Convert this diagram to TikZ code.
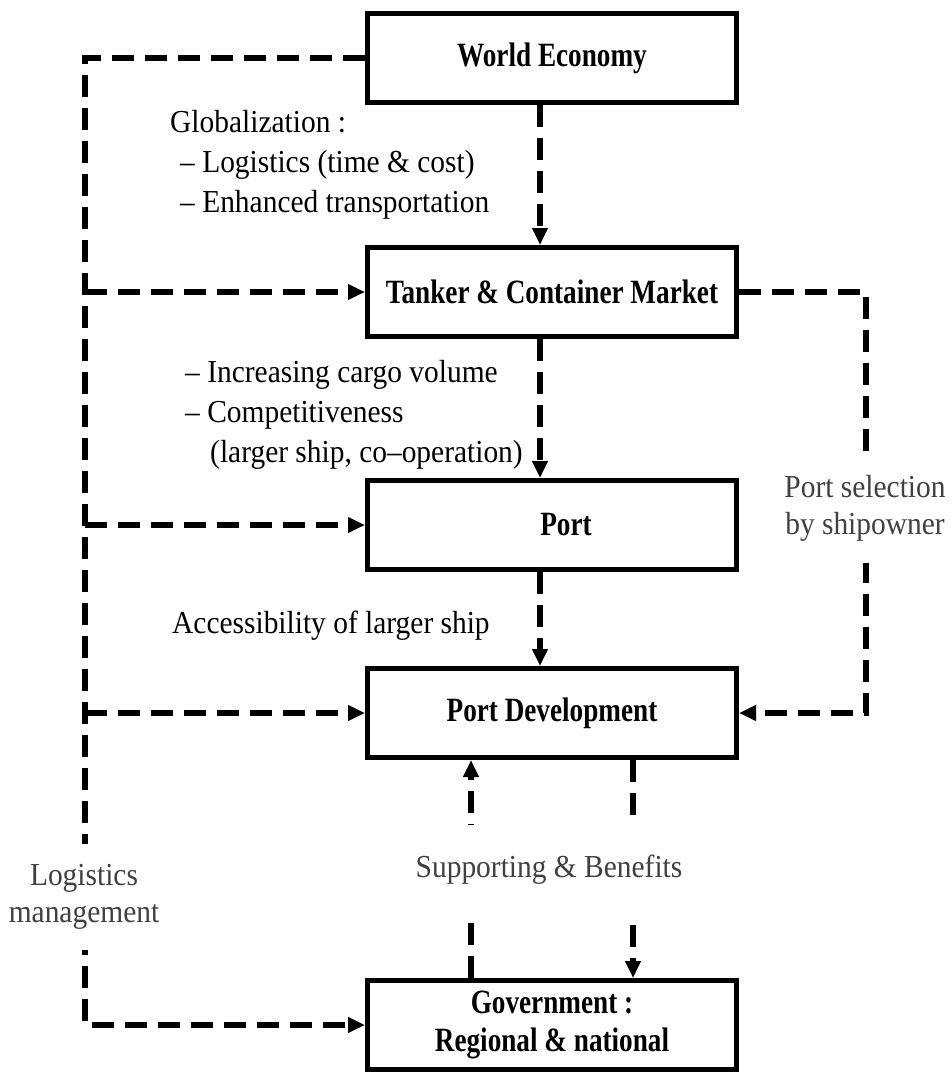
\documentclass[tikz,border=0pt]{standalone}
\usepackage{fontspec}
\setmainfont{Liberation Serif}[FakeStretch=0.92]
\newfontfamily\boxfont{Liberation Serif}[FakeStretch=0.8]
\usetikzlibrary{positioning,arrows.meta}

\begin{document}
\begin{tikzpicture}[
x=1pt, y=-1pt,
>={Triangle[length=17pt,width=15pt]},
boxnode/.style={rectangle, draw=black, line width=5pt, minimum width=369pt, minimum height=89pt, align=center, font=\boxfont\bfseries\fontsize{34}{38}\selectfont},
labelnode/.style={inner sep=0pt, font=\fontsize{32}{40}\selectfont},
gapnode/.style={fill=white, align=center, text=black!75, font=\fontsize{32}{37}\selectfont}, % covers the dashed lines
dline/.style={line width=5.5pt, dash pattern=on 22pt off 11pt},
]
\useasboundingbox (0,0) rectangle (952,1073);

% Nodes
\node[boxnode] (we) at (552,58) {World Economy};
\node[boxnode, below=140pt of we] (tank) {Tanker \& Container Market};
\node[boxnode, below=139pt of tank] (port) {\hspace*{28pt}Port};
\node[boxnode, below=94pt of port] (pdev) {Port Development};
\node[boxnode, below=218pt of pdev] (gov) {Government :\\Regional \& national};

\coordinate (lcol) at (85,0);
\coordinate (rcol) at (866,0);

% Arrows
\draw[dline,->] (we.west) -| (gov.west -| lcol) -- (gov.west);
\foreach \n in {tank,port,pdev}
  \draw[dline,->] (\n.west -| lcol) -- (\n.west);
\draw[dline,->] (tank.east) -| (pdev.east -| rcol) -- (pdev.east);
\draw[dline,->] ([xshift=-12pt]we.south) -- ([xshift=-12pt]tank.north);
\draw[dline,->] ([xshift=-12pt]tank.south) -- ([xshift=-12pt]port.north);
\draw[dline,->] ([xshift=-12pt]port.south) -- ([xshift=-12pt]pdev.north);
\draw[dline,->] ([xshift=-81pt]gov.north) -- ([xshift=-81pt]pdev.south);
\draw[dline,->] ([xshift=81pt]pdev.south) -- ([xshift=81pt]gov.north);

% Labels (base = last line)
\node[labelnode, anchor=base west, align=left] (glob) at (170,212) {Globalization :\\\hspace*{10pt}– Logistics (time \& cost)\\\hspace*{10pt}– Enhanced transportation};
\node[labelnode, anchor=base west, align=left] (cargo) at (185,462) {– Increasing cargo volume\\– Competitiveness\\\hspace*{25pt}(larger ship, co–operation)};
\node[labelnode, anchor=base west] (access) at (172,633) {Accessibility of larger ship};
\node[gapnode, inner xsep=4pt, inner ysep=30pt] (supp) at (549,870) {Supporting \& Benefits};
\node[gapnode, inner xsep=2pt, inner ysep=20pt] (logman) at (84,897) {Logistics\\management};
\node[gapnode, inner xsep=2pt, inner ysep=22pt] (portsel) at (865,508) {Port selection\\by shipowner};

\end{tikzpicture}
\end{document}
